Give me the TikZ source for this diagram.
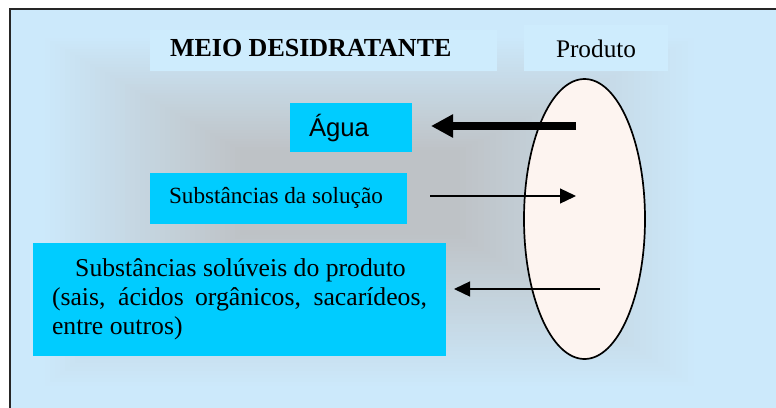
\documentclass[tikz,border=0pt]{standalone}
\usepackage{fontspec}
\setmainfont{Liberation Serif}
\newfontfamily\arialf{Liberation Sans}
\usetikzlibrary{arrows.meta,shapes.geometric,calc}
\definecolor{bgblue}{RGB}{204,233,251}
\definecolor{titlebg}{RGB}{206,236,253}
\definecolor{shgray}{RGB}{190,194,198}
\definecolor{cyanbox}{RGB}{0,204,255}
\definecolor{ellfill}{RGB}{253,244,240}
\tikzset{
  cbox/.style={fill=cyanbox, draw=none, inner sep=0pt, outer sep=0pt, anchor=north west},
  tbox/.style={fill=titlebg, draw=none, inner sep=0pt, outer sep=0pt, anchor=north west},
  txt/.style={inner sep=0pt, outer sep=0pt, anchor=base west},
  thickarr/.style={line width=7.5pt, -{Triangle[length=22pt,width=22pt]}},
  thinarr/.style={line width=1.3pt, -{Triangle[length=16pt,width=15pt]}}
}
\begin{document}
\begin{tikzpicture}[x=1pt,y=-1pt]
\useasboundingbox (0,0) rectangle (776,407);
\clip (0,0) rectangle (776,407);
% background and soft rectangular shadow
\fill[white] (0,0) rectangle (776,407);
\begin{scope}
  \clip (10,9) rectangle (800,430);
  \fill[bgblue] (10,9) rectangle (800,430);
  \foreach \i in {0,...,40}{
    \pgfmathsetmacro\t{\i/40}
    \pgfmathsetmacro\xa{40+(240-40)*\t}
    \pgfmathsetmacro\ya{35+(150-35)*\t}
    \pgfmathsetmacro\xb{700-(700-460)*\t}
    \pgfmathsetmacro\yb{390-(390-235)*\t}
    \pgfmathsetmacro\pc{100*\t}
    \fill[shgray!\pc!bgblue] (\xa,\ya) rectangle (\xb,\yb);
  }
\end{scope}
\draw[line width=1.8pt, black!85] (10,9) rectangle (800,430);
% title boxes
\node[tbox, minimum width=347pt, minimum height=41pt] (titlebox) at (150,30) {};
\node[txt] (title) at (170,56) {\fontsize{26pt}{30pt}\selectfont\bfseries MEIO DESIDRATANTE};
\node[tbox, minimum width=144pt, minimum height=46pt] (prodbox) at (524,25) {};
\node[txt] (prodtxt) at (556,57) {\fontsize{25.3pt}{30pt}\selectfont Produto};
% product ellipse
\node[ellipse, draw=black, line width=1.7pt, fill=ellfill, inner sep=0pt,
      minimum width=121pt, minimum height=280pt] (prod) at (584.5,219) {};
% boxes
\node[cbox, minimum width=122pt, minimum height=49pt] (aguabox) at (290,103) {};
\node[txt] (agua) at (309,136) {\arialf\fontsize{25.7pt}{30pt}\selectfont Água};
\node[cbox, minimum width=257pt, minimum height=51pt] (solbox) at (150,173) {};
\node[txt] (sol) at (169,203.5) {\fontsize{23.2pt}{28pt}\selectfont Substâncias da solução};
\node[cbox, minimum width=413pt, minimum height=113pt] (bigbox) at (33,243) {};
\node[inner sep=0pt, outer sep=0pt, anchor=base] (l1) at (240.5,276) {\fontsize{25.7pt}{30pt}\selectfont Substâncias solúveis do produto};
\node[txt] (l2) at (52,305) {\fontsize{25.7pt}{30pt}\selectfont\makebox[375pt][s]{(sais, ácidos orgânicos, sacarídeos,}};
\node[txt] (l3) at (52,334) {\fontsize{25.7pt}{30pt}\selectfont entre outros)};
% arrows
\coordinate (w1) at (576,126);
\coordinate (s2) at (576,196);
\coordinate (p3) at (600,289);
\draw[thickarr] (w1) -- ($(w1 -| aguabox.east)+(19,0)$);
\draw[thinarr] ($(s2 -| solbox.east)+(23,0)$) -- (s2);
\draw[thinarr] (p3) -- ($(p3 -| bigbox.east)+(8,0)$);
\end{tikzpicture}
\end{document}
